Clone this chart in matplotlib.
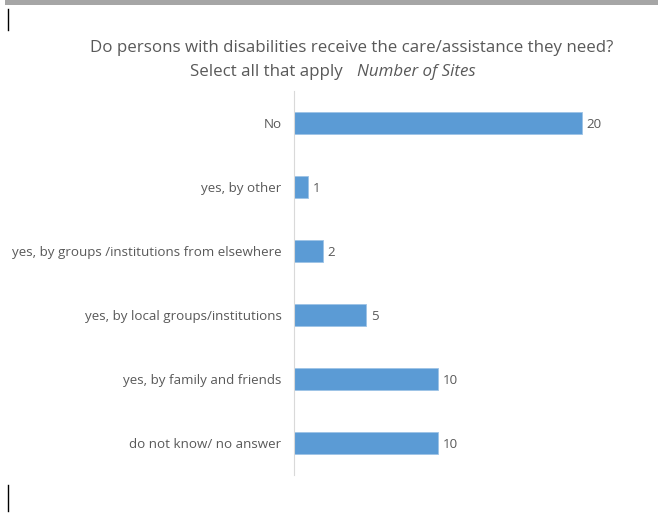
import matplotlib
matplotlib.use("Agg")
import matplotlib.pyplot as plt
from matplotlib.lines import Line2D
from matplotlib.patches import Rectangle

categories = ["No", "yes, by other", "yes, by groups /institutions from elsewhere",
              "yes, by local groups/institutions", "yes, by family and friends",
              "do not know/ no answer"]
values = [20, 1, 2, 5, 10, 10]

plt.rcParams['font.family'] = ['Open Sans', 'DejaVu Sans']
txt = '#595959'

fig = plt.figure(figsize=(6.58, 5.14), dpi=100)
ax = fig.add_axes([294/658, 39/514, 316.8/658, 384/514])

ypos = list(range(len(categories)))
ax.barh(ypos, values, height=0.34, color='#5B9BD5', edgecolor='#9DC3E6', linewidth=0.6)
ax.set_ylim(len(categories) - 0.5, -0.5)
ax.set_xlim(0, 22)
ax.set_yticks(ypos)
ax.set_yticklabels(categories, fontsize=9.6, color=txt)
ax.tick_params(axis='y', length=0, pad=9)
ax.set_xticks([])
for s in ['top', 'right', 'bottom']:
    ax.spines[s].set_visible(False)
ax.spines['left'].set_color('#D9D9D9')
ax.spines['left'].set_linewidth(0.8)

for y, v in zip(ypos, values):
    ax.annotate(str(v), (v, y), xytext=(3.5, 0), textcoords='offset points',
                va='center_baseline', ha='left', fontsize=9.6, color=txt)

fig.text(352/658, 1 - 48/514, "Do persons with disabilities receive the care/assistance they need?",
         ha='center', va='center', fontsize=12.2, color=txt)
fig.text(343/658, 1 - 72/514, "Select all that apply",
         ha='right', va='center', fontsize=12.2, color=txt)
fig.text(357/658, 1 - 72/514, "Number of Sites",
         ha='left', va='center', fontsize=12.2, color=txt, style='italic')

# decorative frame elements
fig.add_artist(Rectangle((5/658, 1 - 4.5/514), 653/658, 4.5/514, transform=fig.transFigure,
                         facecolor='#A6A6A6', edgecolor='none'))
fig.add_artist(Line2D([8/658, 8/658], [1 - 9/514, 1 - 30/514], transform=fig.transFigure,
                      color='black', linewidth=1))
fig.add_artist(Line2D([8/658, 8/658], [1 - 485/514, 1 - 511/514], transform=fig.transFigure,
                      color='black', linewidth=1))

fig.savefig("out.png", dpi=100)
